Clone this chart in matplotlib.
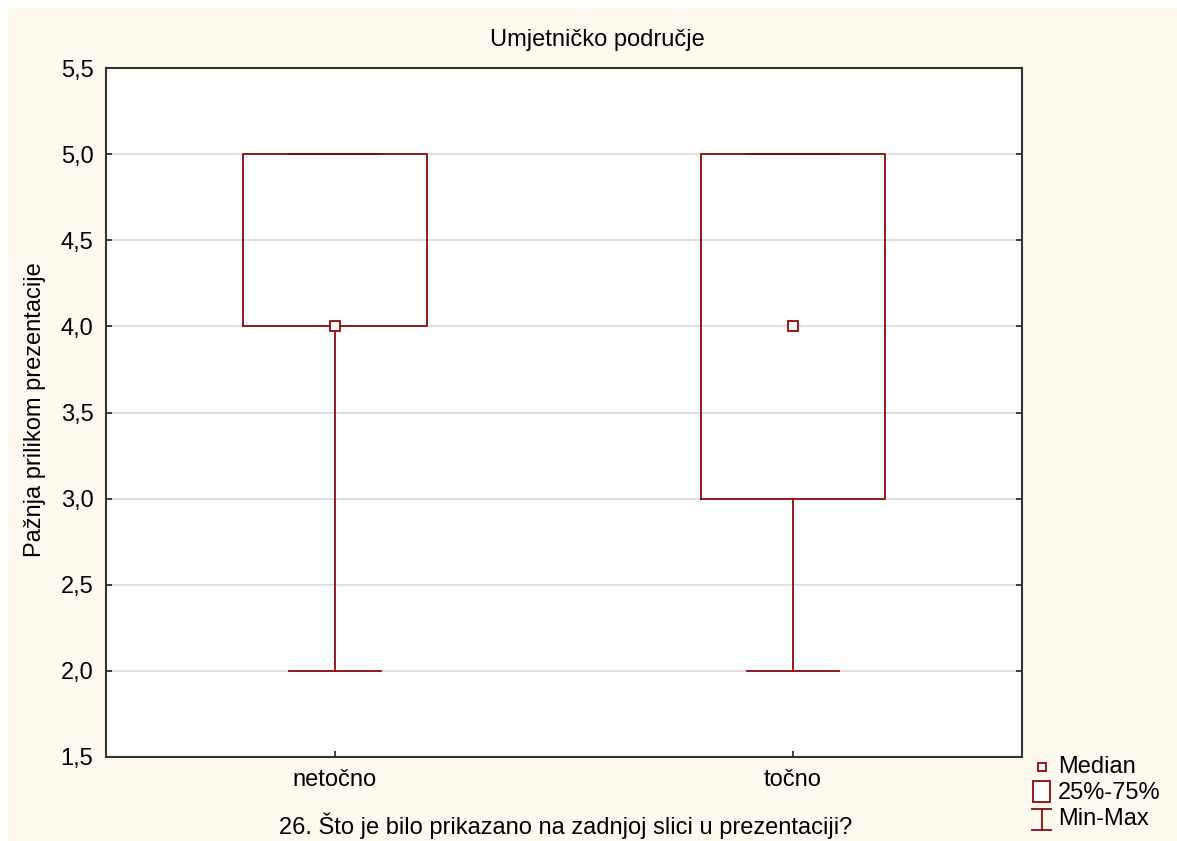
import matplotlib
matplotlib.use("Agg")
import matplotlib.pyplot as plt
from matplotlib.patches import Rectangle
from matplotlib.ticker import FuncFormatter

plt.rcParams['font.family'] = ['Liberation Sans', 'DejaVu Sans']

# data
categories = ["netočno", "točno"]
medians = [4.0, 4.0]
q1 = [4.0, 3.0]
q3 = [5.0, 5.0]
mins = [2.0, 2.0]
maxs = [5.0, 5.0]

title = "Umjetničko područje"
xlabel = "26. Što je bilo prikazano na zadnjoj slici u prezentaciji?"
ylabel = "Pažnja prilikom prezentacije"
legend_labels = ["Median", "25%-75%", "Min-Max"]

red = "#8b0a0a"
cream = "#fffaf0"
fs = 17
W, H = 1177, 841

fig = plt.figure(figsize=(W / 100, H / 100), dpi=100, facecolor="white")
fig.patches.append(Rectangle((8 / W, 0), 1, 1 - 8 / H, transform=fig.transFigure,
                             facecolor=cream, edgecolor="none", zorder=-10))

ax = fig.add_axes([106 / W, 1 - 757 / H, (1022 - 106) / W, (757 - 68) / H])
ax.set_facecolor("white")

stats = []
for i, c in enumerate(categories):
    stats.append(dict(label=c, med=medians[i], mean=medians[i], q1=q1[i], q3=q3[i],
                      whislo=mins[i], whishi=maxs[i], fliers=[]))

pos = list(range(len(categories)))
ax.bxp(stats, positions=pos, widths=0.4, capwidths=0.2, showmeans=True,
       showfliers=False,
       boxprops=dict(color=red, linewidth=1.3),
       whiskerprops=dict(color=red, linewidth=1.3),
       capprops=dict(color=red, linewidth=1.3),
       medianprops=dict(visible=False),
       meanprops=dict(marker="s", markersize=7, markerfacecolor="white",
                      markeredgecolor=red, markeredgewidth=1.3))

ax.set_xlim(-0.5, 1.5)
ax.set_ylim(1.5, 5.5)
ax.set_yticks([1.5, 2.0, 2.5, 3.0, 3.5, 4.0, 4.5, 5.0, 5.5])
ax.yaxis.set_major_formatter(FuncFormatter(lambda v, p: f"{v:.1f}".replace(".", ",")))
ax.set_xticks(pos)
ax.set_xticklabels(categories)
ax.grid(axis="y", color="#d9d9d9", linewidth=1.2)
ax.set_axisbelow(True)
ax.tick_params(direction="in", length=4, width=1.2, labelsize=fs, colors="#222222",
               labelcolor="black", right=True)
ax.tick_params(axis="y", pad=9)
ax.tick_params(axis="x", pad=9)
for s in ax.spines.values():
    s.set_color("#333333")
    s.set_linewidth(1.5)

fig.text(597 / W, 1 - 40 / H, title, ha="center", va="center", fontsize=fs)
fig.text(566 / W, 1 - 826 / H, xlabel, ha="center", va="center", fontsize=fs)
fig.text(35 / W, 1 - 410 / H, ylabel, ha="center", va="center", rotation=90, fontsize=fs)

# legend drawn in pixel coordinates
lg = fig.add_axes([0, 0, 1, 1], facecolor="none")
lg.set_xlim(0, W)
lg.set_ylim(H, 0)
lg.axis("off")
lg.plot([1042], [767], marker="s", markersize=6, markerfacecolor="white",
        markeredgecolor=red, markeredgewidth=1.3)
lg.add_patch(Rectangle((1033, 781), 17, 21, facecolor="white", edgecolor=red, linewidth=1.3))
lg.plot([1032, 1051], [809, 809], color=red, linewidth=1.3)
lg.plot([1041.5, 1041.5], [809, 830], color=red, linewidth=1.3)
lg.plot([1032, 1051], [830, 830], color=red, linewidth=1.3)
for yy, t in zip([767, 793, 819], legend_labels):
    lg.text(1058, yy, t, ha="left", va="center", fontsize=fs)

fig.savefig("out.png", dpi=100, facecolor=fig.get_facecolor())
